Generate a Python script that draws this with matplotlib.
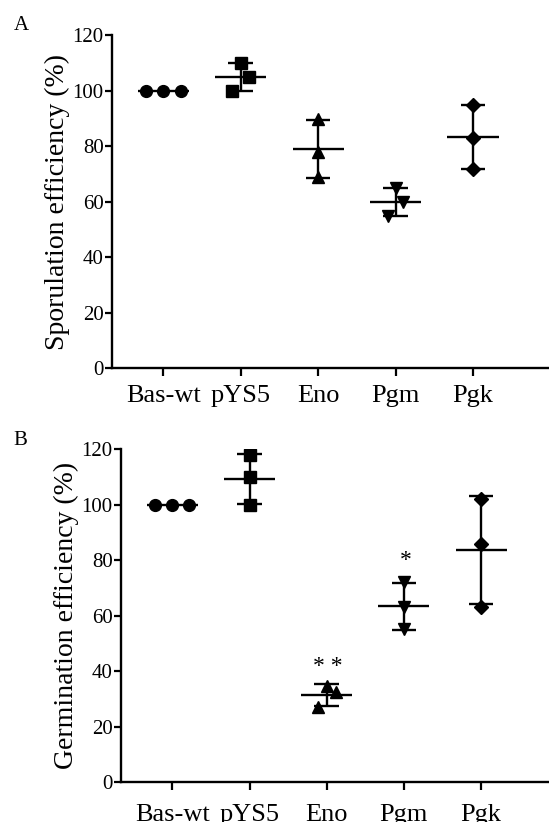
import numpy as np
import matplotlib
matplotlib.use("Agg")
import matplotlib.pyplot as plt

plt.rcParams['font.family'] = ['Liberation Serif', 'DejaVu Serif']

groups = ['Bas-wt', 'pYS5', 'Eno', 'Pgm', 'Pgk']
markers = ['o', 's', '^', 'v', 'D']

# Panel A - sporulation efficiency (%)
spor_baswt = [100, 100, 100]
spor_pys5 = [100, 110, 105]
spor_eno = [90, 78, 69]
spor_pgm = [65, 60, 55]
spor_pgk = [95, 83, 72]

# Panel B - germination efficiency (%)
germ_baswt = [100, 100, 100]
germ_pys5 = [118, 110, 100]
germ_eno = [27, 34.5, 32.5]
germ_pgm = [72, 63, 55]
germ_pgk = [102, 86, 63]

# significance marks (group, label, height)
germ_stars = [('Eno', '* *', 41.8), ('Pgm', '*', 79.8)]

spor = [spor_baswt, spor_pys5, spor_eno, spor_pgm, spor_pgk]
germ = [germ_baswt, germ_pys5, germ_eno, germ_pgm, germ_pgk]

# horizontal scatter of points inside a column
jit_a = [[-0.225, 0, 0.225], [-0.11, 0, 0.11], [0, 0, 0], [0, 0.1, -0.1], [0, 0, 0]]
jit_b = [[-0.23, 0, 0.22], [0, 0, 0], [-0.11, 0, 0.12], [0, 0, 0], [0, 0, 0]]

fig = plt.figure(figsize=(5.49, 8.22), dpi=100)


def panel(rect, data, jit, xlim, ylabel, letter, letter_xy, stars=(), xpad=6):
    ax = fig.add_axes(rect)
    x = np.arange(len(groups))
    for i, vals in enumerate(data):
        vals = np.array(vals, dtype=float)
        m = vals.mean()
        sd = vals.std(ddof=1)
        ax.plot(x[i] + np.array(jit[i]), vals, linestyle='none', marker=markers[i],
                color='black', markersize=8.5 if markers[i] != 'D' else 7, zorder=3)
        ax.hlines(m, x[i] - 0.33, x[i] + 0.33, color='black', lw=1.7, zorder=2)
        if sd > 0:
            ax.vlines(x[i], m - sd, m + sd, color='black', lw=1.7, zorder=2)
            ax.hlines([m - sd, m + sd], x[i] - 0.16, x[i] + 0.16, color='black', lw=1.7, zorder=2)
    for g, s, h in stars:
        ax.text(groups.index(g) + 0.02, h, s, ha='center', va='center', fontsize=17)
    ax.set_xlim(*xlim)
    ax.set_ylim(0, 120)
    ax.set_yticks(np.arange(0, 121, 20))
    ax.set_xticks(x)
    ax.set_xticklabels(groups, fontsize=19)
    ax.tick_params(axis='y', labelsize=15, length=5, width=1.6, pad=1)
    ax.tick_params(axis='x', length=6, width=1.6, pad=xpad)
    ax.spines['top'].set_visible(False)
    ax.spines['right'].set_visible(False)
    ax.spines['left'].set_linewidth(1.7)
    ax.spines['bottom'].set_linewidth(1.7)
    ax.set_ylabel(ylabel, fontsize=20, labelpad=2)
    fig.text(letter_xy[0], letter_xy[1], letter, fontsize=15, ha='center', va='center')
    return ax


panel([0.204, 0.552, 0.796, 0.405], spor, jit_a, (-0.66, 4.98),
      'Sporulation efficiency (%)', 'A', (21 / 549, 1 - 25 / 822))
panel([0.2204, 0.0487, 0.7796, 0.4047], germ, jit_b, (-0.665, 4.88),
      'Germination efficiency (%)', 'B', (20 / 549, 1 - 440 / 822), germ_stars, xpad=10)

fig.savefig('out.png', dpi=100)
